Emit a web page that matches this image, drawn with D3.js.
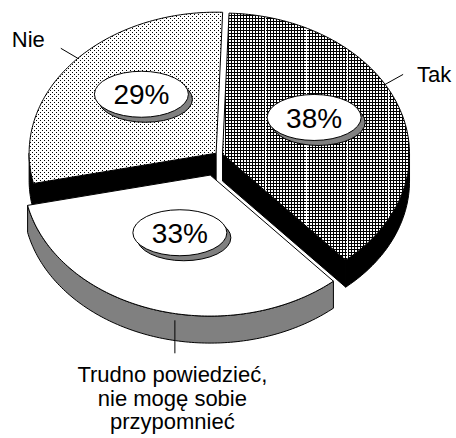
<!DOCTYPE html>
<html>
<head>
<meta charset="utf-8">
<script src="https://cdn.jsdelivr.net/npm/d3@7"></script>
<style>
	body { margin: 0; background: #fff; }
	text { font-family: "Liberation Sans", Arial, sans-serif; fill: #000; }
</style>
</head>
<body>
<script>
// data, in the order the slices go round (clockwise from 12 o'clock)
const categories = ["Tak", "Trudno powiedzieć, nie mogę sobie przypomnieć", "Nie"];
const labelLines = [["Tak"], ["Trudno powiedzieć,", "nie mogę sobie", "przypomnieć"], ["Nie"]];
const values = [38, 33, 29];
const valueLabels = ["38%", "33%", "29%"];

const W = 456, H = 438;
const cx = 219, cy = 155, rx = 187, ry = 141, depth = 27;
const rad = Math.PI / 180;
const startAngle = 2 * rad;
const explode = [0.02, 0.15, 0.02];
const topFills = ["url(#grid)", "#fff", "url(#dots)"];
const sideFills = ["#000", "#808080", "#000"];
const drawOrder = [2, 0, 1];

// leader line / label placement per slice
const leaders = [
	{ dA: -10, h: 0, vx: 18, vy: -10, tx: 14, ty: 8, anchor: "start" },
	{ dA: -7.3, h: 0.25, vx: 0, vy: 33, tx: -2.5, ty: 29, anchor: "middle" },
	{ dA: 2.5, h: 0, vx: -17, vy: -10, tx: -16, ty: -1, anchor: "end" }
];

const svg = d3.select("body").append("svg").attr("width", W).attr("height", H);
const defs = svg.append("defs");

const grid = defs.append("pattern").attr("id", "grid")
	.attr("patternUnits", "userSpaceOnUse").attr("width", 3).attr("height", 3);
grid.append("rect").attr("width", 3).attr("height", 3).attr("fill", "#fff");
grid.append("rect").attr("width", 1).attr("height", 3).attr("fill", "#000");
grid.append("rect").attr("width", 3).attr("height", 1).attr("fill", "#000");

const vlines = defs.append("pattern").attr("id", "vlines")
	.attr("patternUnits", "userSpaceOnUse").attr("x", 19).attr("width", 41).attr("height", 10);
vlines.append("rect").attr("width", 1).attr("height", 10).attr("fill", "#fff");

const dots = defs.append("pattern").attr("id", "dots")
	.attr("patternUnits", "userSpaceOnUse").attr("width", 4).attr("height", 4);
dots.append("rect").attr("width", 4).attr("height", 4).attr("fill", "#fff");
dots.append("rect").attr("width", 1).attr("height", 1).attr("fill", "#000");
dots.append("rect").attr("x", 2).attr("y", 2).attr("width", 1).attr("height", 1).attr("fill", "#000");

const pie = d3.pie().sort(null).value((d) => d)
	.startAngle(startAngle).endAngle(startAngle + 2 * Math.PI);
const arcs = pie(values);

arcs.forEach((d, i) => {
	const mid = (d.startAngle + d.endAngle) / 2;
	d.off = [rx * explode[i] * Math.sin(mid), -ry * explode[i] * Math.cos(mid)];
	d.mid = mid;
});

const pt = (a, r, h, off) => [
	off[0] + cx + rx * r * Math.sin(a),
	off[1] + cy - ry * r * Math.cos(a) + h * depth
];
const rim = (a0, a1, h, off) => {
	const n = Math.max(2, Math.ceil((a1 - a0) / rad));
	return d3.range(n + 1).map((k) => pt(a0 + ((a1 - a0) * k) / n, 1, h, off));
};
const line = d3.line();
const closed = (pts) => line(pts) + "Z";

const pieG = svg.append("g");
drawOrder.forEach((i) => {
	const d = arcs[i];
	const a0 = d.startAngle, a1 = d.endAngle, off = d.off;
	const g = pieG.append("g").attr("class", "slice");
	const side = { fill: sideFills[i], stroke: "#000" };

	// cut faces visible because of the explode
	if (Math.sin(a0) < -0.3) {
		g.append("path")
			.attr("d", closed([pt(a0, 0, 0, off), pt(a0, 1, 0, off), pt(a0, 1, 1, off), pt(a0, 0, 1, off)]))
			.attr("fill", side.fill).attr("stroke", side.stroke);
	}
	if (Math.sin(a1) > 0.3) {
		g.append("path")
			.attr("d", closed([pt(a1, 0, 0, off), pt(a1, 1, 0, off), pt(a1, 1, 1, off), pt(a1, 0, 1, off)]))
			.attr("fill", side.fill).attr("stroke", side.stroke);
	}
	// outer wall, front half only
	const w0 = Math.max(a0, Math.PI / 2), w1 = Math.min(a1, 1.5 * Math.PI);
	if (w1 > w0) {
		g.append("path")
			.attr("d", closed(rim(w0, w1, 0, off).concat(rim(w0, w1, 1, off).reverse())))
			.attr("fill", side.fill).attr("stroke", side.stroke);
	}
	// top
	const topD = closed([pt(0, 0, 0, off)].concat(rim(a0, a1, 0, off)));
	g.append("path").attr("d", topD).attr("fill", topFills[i]);
	if (i === 0) g.append("path").attr("d", topD).attr("fill", "url(#vlines)");
	g.append("path").attr("d", topD).attr("fill", "none").attr("stroke", "#000");
});

// percentage bubbles
const bubbles = svg.append("g").selectAll("g").data(arcs).join("g")
	.attr("transform", (d) => {
		const p = pt(d.mid, 0.52, 0, d.off);
		return "translate(" + p[0] + "," + (p[1] - 12) + ")";
	});
bubbles.append("ellipse").attr("cx", 4).attr("cy", 5).attr("rx", 47).attr("ry", 23)
	.attr("fill", "#808080").attr("stroke", "#000");
bubbles.append("ellipse").attr("rx", 47).attr("ry", 23)
	.attr("fill", "#fff").attr("stroke", "#000");
bubbles.append("text").attr("text-anchor", "middle").attr("dy", "0.36em")
	.style("font-size", "28px").text((d, i) => valueLabels[i]);

// category labels with leader lines
const labels = svg.append("g").selectAll("g").data(arcs).join("g");
labels.each(function (d, i) {
	const L = leaders[i];
	const s = pt(d.mid + L.dA * rad, 1, L.h, d.off);
	const e = [s[0] + L.vx, s[1] + L.vy];
	const g = d3.select(this);
	g.append("line").attr("x1", s[0]).attr("y1", s[1]).attr("x2", e[0]).attr("y2", e[1])
		.attr("stroke", "#000");
	g.append("text")
		.attr("text-anchor", L.anchor)
		.style("font-size", "22px")
		.selectAll("tspan").data(labelLines[i]).join("tspan")
		.attr("x", e[0] + L.tx)
		.attr("y", (t, k) => e[1] + L.ty + k * 23.5)
		.text((t) => t);
});
</script>
</body>
</html>
